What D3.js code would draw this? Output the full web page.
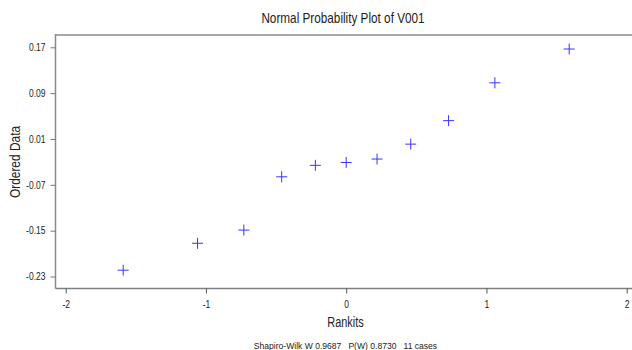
<!DOCTYPE html>
<html>
<head>
<meta charset="utf-8">
<script src="https://cdn.jsdelivr.net/npm/d3@7"></script>
<style>
  body { margin: 0; background: #fff; }
  svg { display: block; font-family: "Liberation Sans", Arial, sans-serif; }
</style>
</head>
<body>
<div id="chart"></div>
<script>
// rankits (normal scores) for 11 cases and the ordered sample values
const rankits = [-1.59, -1.06, -0.73, -0.46, -0.22, 0, 0.22, 0.46, 0.73, 1.06, 1.59];
const ordered = [-0.219, -0.172, -0.149, -0.056, -0.036, -0.031, -0.025, 0.001, 0.042, 0.108, 0.167];
const xTicks = [-2, -1, 0, 1, 2];
const yTicks = [0.17, 0.09, 0.01, -0.07, -0.15, -0.23];
const footnote = 'Shapiro-Wilk W 0.9687   P(W) 0.8730   11 cases';

const width = 632, height = 350;
const frame = { left: 55.5, top: 35, bottom: 288.5, right: 632 };

// squeeze text horizontally (the original uses a narrow face)
function condense(sel, k) {
  sel.each(function() {
    const w = this.getComputedTextLength();
    d3.select(this)
      .attr('textLength', w * k)
      .attr('lengthAdjust', 'spacingAndGlyphs');
  });
}

const svg = d3.select('#chart').append('svg')
  .attr('width', width)
  .attr('height', height);

const x = d3.scaleLinear().domain([-2, 2]).range([65.7, 626.7]);
const y = d3.scaleLinear().domain([-0.23, 0.17]).range([276.5, 47.3]);

// frame lines (no right side)
svg.append('line')
  .attr('x1', frame.left).attr('x2', frame.right)
  .attr('y1', frame.top).attr('y2', frame.top)
  .attr('stroke', '#a8a8a8').attr('stroke-width', 2);
svg.append('line')
  .attr('x1', frame.left).attr('x2', frame.left)
  .attr('y1', frame.top - 1).attr('y2', frame.bottom)
  .attr('stroke', '#8a8a8a').attr('stroke-width', 1.5);
svg.append('line')
  .attr('x1', frame.left).attr('x2', frame.right)
  .attr('y1', frame.bottom).attr('y2', frame.bottom)
  .attr('stroke', '#808080').attr('stroke-width', 1.5);

// y axis
const gy = svg.append('g')
  .attr('transform', `translate(${frame.left},0)`)
  .call(d3.axisLeft(y).tickValues(yTicks).tickSize(5).tickPadding(5)
    .tickFormat(d => d3.format('.2f')(d).replace('−', '-')));
gy.select('.domain').remove();
gy.selectAll('.tick line').attr('stroke', '#777');
gy.selectAll('.tick text')
  .attr('font-size', 10)
  .attr('fill', '#222')
  .call(condense, 0.85);

// x axis
const gx = svg.append('g')
  .attr('transform', `translate(0,${frame.bottom})`)
  .call(d3.axisBottom(x).tickValues(xTicks).tickSize(5).tickPadding(7)
    .tickFormat(d => String(d)));
gx.select('.domain').remove();
gx.selectAll('.tick line').attr('stroke', '#555');
gx.selectAll('.tick text')
  .attr('font-size', 10)
  .attr('fill', '#222')
  .call(condense, 0.85);

// markers: plus signs
const s = 5.5;
svg.append('g')
  .selectAll('path')
  .data(rankits.map((r, i) => ({ r, v: ordered[i] })))
  .join('path')
  .attr('d', d => {
    const cx = x(d.r), cy = y(d.v);
    return `M${cx - s},${cy}H${cx + s}M${cx},${cy - s}V${cy + s}`;
  })
  .attr('fill', 'none')
  .attr('stroke', '#3535ff')
  .attr('stroke-width', 1);

// title
svg.append('text')
  .attr('x', 343).attr('y', 23)
  .attr('text-anchor', 'middle')
  .attr('font-size', 14.5)
  .attr('fill', '#222')
  .text('Normal Probability Plot of V001')
  .call(condense, 0.81);

// axis titles
svg.append('text')
  .attr('x', 345.5).attr('y', 327)
  .attr('text-anchor', 'middle')
  .attr('font-size', 14)
  .attr('fill', '#222')
  .text('Rankits')
  .call(condense, 0.78);

svg.append('text')
  .attr('transform', `translate(20,162) rotate(-90)`)
  .attr('text-anchor', 'middle')
  .attr('font-size', 14)
  .attr('fill', '#222')
  .text('Ordered Data')
  .call(condense, 0.85);

// footnote
svg.append('text')
  .attr('x', 345.5).attr('y', 349)
  .attr('text-anchor', 'middle')
  .attr('font-size', 9.5)
  .attr('fill', '#222')
  .style('white-space', 'pre')
  .text(footnote)
  .call(condense, 0.9);
</script>
</body>
</html>
